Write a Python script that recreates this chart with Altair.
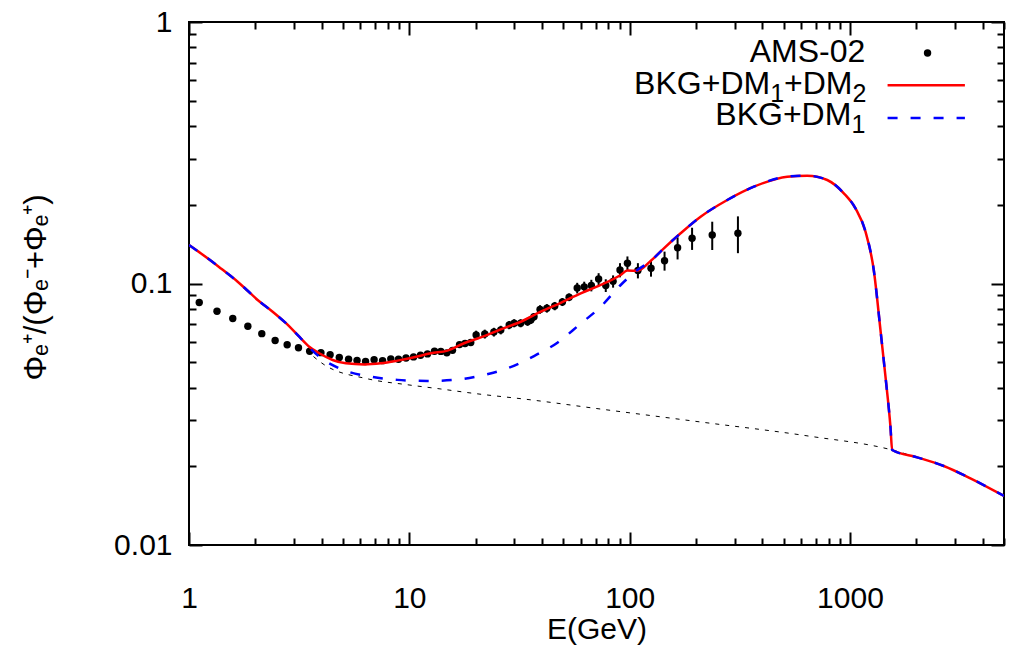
import altair as alt
import pandas as pd

# ---------------- AMS-02 positron fraction ----------------
ams_E = [1.113, 1.34, 1.58, 1.85, 2.14, 2.46, 2.79, 3.14, 3.53, 3.97,
         4.37, 4.81, 5.30, 5.79, 6.33, 6.92, 7.56, 8.24, 8.93, 9.66,
         10.45, 11.24, 12.09, 13.01, 13.9, 14.8, 15.7, 16.9, 17.9, 19.0,
         20.1, 22.0, 24.2, 26.0, 28.4, 29.9, 32.0, 34.4, 35.6, 36.8,
         39.2, 42.1, 45.7, 49.5, 53.1, 57.8, 62.2, 67.0, 72.3, 77.9,
         84.1, 90.4, 97.7, 109, 125, 144, 165, 192, 237, 310]
ams_frac = [0.0846, 0.0783, 0.0735, 0.0686, 0.0643, 0.0605, 0.0583, 0.0568, 0.0551, 0.0544,
            0.0534, 0.0521, 0.0513, 0.0508, 0.0503, 0.0511, 0.0507, 0.0515, 0.0513, 0.0519,
            0.0524, 0.0532, 0.0538, 0.0551, 0.0550, 0.0543, 0.0555, 0.0584, 0.0590, 0.0595,
            0.0635, 0.0641, 0.0652, 0.0664, 0.0694, 0.0705, 0.0705, 0.0714, 0.0725, 0.0746,
            0.0796, 0.0804, 0.0820, 0.0850, 0.0886, 0.0961, 0.0971, 0.0983, 0.1040, 0.0983,
            0.1019, 0.1126, 0.1195, 0.1121, 0.1143, 0.1222, 0.1369, 0.1489, 0.1533, 0.1556]
ams_err = [0.001] * 30 + [0.0025] * 10 + [0.003] * 5 + \
          [0.0045, 0.0045, 0.005, 0.0055, 0.0055, 0.0055,
           0.007, 0.0074, 0.0075, 0.0081, 0.0102, 0.0133, 0.0145, 0.019, 0.025]

# ---------------- model curves ----------------
tot_E = [1.0, 1.134, 1.302, 1.397, 1.663, 1.846, 2.049, 2.397, 2.754, 3.165,
         3.512, 3.899, 4.485, 5.152, 6.237, 7.425, 8.842, 10.51, 12.52, 14.90,
         17.72, 21.10, 26.0, 32.04, 39.49, 48.66, 59.96, 73.89, 91.05, 97.6,
         108.4, 124.5, 143.0, 170.3, 209.9, 277.4, 366.2, 519.1, 639.5, 788.1,
         937.4, 1059, 1176, 1282, 1375, 1449, 1526, 1554, 2017, 2664, 3520, 5000]
tot_frac = [0.1404, 0.1303, 0.1195, 0.1141, 0.1016, 0.0938, 0.0865, 0.0780, 0.0705, 0.0626,
            0.0573, 0.0541, 0.0510, 0.0495, 0.0490, 0.0495, 0.0507, 0.0522, 0.0541, 0.0554,
            0.0591, 0.0622, 0.0668, 0.0714, 0.0780, 0.0844, 0.0917, 0.0987, 0.1078, 0.1121,
            0.1118, 0.1219, 0.1363, 0.1556, 0.1800, 0.2086, 0.2345, 0.2562, 0.2584, 0.2488,
            0.2213, 0.1939, 0.1578, 0.1126, 0.0664, 0.0440, 0.02834, 0.02308, 0.02164, 0.02005,
            0.01799, 0.0154]

dm1_E = [1.0, 1.134, 1.302, 1.397, 1.663, 1.846, 2.049, 2.397, 2.754, 3.165,
         3.512, 3.899, 4.891, 6.69, 8.842, 12.09, 15.97, 21.84, 27.89, 36.81,
         47.0, 58.9, 73.89, 91.05, 108.4, 124.5, 143.0, 170.3, 209.9, 277.4,
         366.2, 519.1, 639.5, 788.1, 937.4, 1059, 1176, 1282, 1375, 1449,
         1526, 1554, 2017, 2664, 3520, 5000]
dm1_frac = [0.1404, 0.1303, 0.1195, 0.1141, 0.1016, 0.0938, 0.0865, 0.0780, 0.0705, 0.0626,
            0.0569, 0.0525, 0.0471, 0.0440, 0.0428, 0.0424, 0.0428, 0.0447, 0.0474, 0.0528,
            0.0594, 0.0694, 0.0815, 0.0987, 0.1126, 0.1219, 0.1363, 0.1556, 0.1800, 0.2086,
            0.2345, 0.2562, 0.2584, 0.2488, 0.2213, 0.1939, 0.1578, 0.1126, 0.0664, 0.0440,
            0.02834, 0.02308, 0.02164, 0.02005, 0.01799, 0.0154]

bkg_E = [3.394, 4.095, 6.463, 9.81, 13.9, 19.61, 35.56, 73.89, 209.9, 648.4,
         1554, 2017, 2664, 3520, 5000]
bkg_frac = [0.0557, 0.0490, 0.0432, 0.0410, 0.0395, 0.0380, 0.0359, 0.0331, 0.02954, 0.02610,
            0.02308, 0.02164, 0.02005, 0.01799, 0.0154]

# ---------------- axes ----------------
x_ticks = [1, 2, 3, 4, 5, 6, 7, 8, 9, 10, 20, 30, 40, 50, 60, 70, 80, 90,
           100, 200, 300, 400, 500, 600, 700, 800, 900, 1000, 2000, 3000, 4000, 5000]
y_ticks = [0.01, 0.02, 0.03, 0.04, 0.05, 0.06, 0.07, 0.08, 0.09,
           0.1, 0.2, 0.3, 0.4, 0.5, 0.6, 0.7, 0.8, 0.9, 1]

# ---------------- legend (text pieces: main text + subscripts) ----------------
leg_main_text = ["AMS-02", "BKG+DM", "+DM", "BKG+DM"]
leg_main_E = [1173, 434.1, 1025.4, 1014.6]
leg_main_y = [0.7037, 0.5328, 0.5328, 0.4030]
leg_sub_text = ["1", "2", "1"]
leg_sub_E = [434.1, 1025.4, 1014.6]
leg_sub_y = [0.5328, 0.5328, 0.4030]
leg_dot_E = [2249]
leg_dot_y = [0.7616]
leg_line_E1 = [1481, 1481]
leg_line_E2 = [3323, 3323]
leg_line_y = [0.5733, 0.4298]

FONT = "Liberation Sans"
FS = 30
LFS = 32
SFS = 25

xs = alt.Scale(type="log", domain=[1, 5000], nice=False)
ys = alt.Scale(type="log", domain=[0.01, 1], nice=False)

x_major = "indexof([1,10,100,1000], datum.value) >= 0 ? -13 : -7"
y_major = "indexof([0.01,0.1,1], datum.value) >= 0 ? -13 : -7"

x_axis_bottom = alt.Axis(orient="bottom", values=x_ticks, grid=False, domain=False,
                         tickSize={"expr": x_major}, tickWidth=2, tickColor="black",
                         labelExpr="indexof([1,10,100,1000], datum.value) >= 0 ? format(datum.value, 'd') : ''",
                         labelFont=FONT, labelFontSize=FS, labelColor="black",
                         labelPadding=51, labelFlush=False, labelOverlap=False,
                         title="E(GeV)", titleFont=FONT, titleFontSize=FS, titleFontWeight="normal",
                         titleColor="black", titleY=84, titleBaseline="middle")
y_axis_left = alt.Axis(orient="left", values=y_ticks, grid=False, domain=False,
                       tickSize={"expr": y_major}, tickWidth=2, tickColor="black",
                       labelExpr="datum.value == 1 ? '1' : datum.value == 0.1 ? '0.1' : datum.value == 0.01 ? '0.01' : ''",
                       labelFont=FONT, labelFontSize=FS, labelColor="black",
                       labelPadding=30, labelFlush=False, labelOverlap=False,
                       title="Φₑ⁺/(Φₑ⁻+Φₑ⁺)", titleFont=FONT, titleFontSize=31, titleFontWeight="normal",
                       titleColor="black", titleX=-153, titleY=265, titleAngle=270,
                       titleAlign="center", titleBaseline="middle")
x_axis_top = alt.Axis(orient="top", values=x_ticks, grid=False, domain=False, labels=False,
                      tickSize={"expr": x_major}, tickWidth=2, tickColor="black", title=None)
y_axis_right = alt.Axis(orient="right", values=y_ticks, grid=False, domain=False, labels=False,
                        tickSize={"expr": y_major}, tickWidth=2, tickColor="black", title=None)

bkg_df = pd.DataFrame({"E": bkg_E, "f": bkg_frac})
tot_df = pd.DataFrame({"E": tot_E, "f": tot_frac})
dm1_df = pd.DataFrame({"E": dm1_E, "f": dm1_frac})
ams_df = pd.DataFrame({"E": ams_E, "f": ams_frac, "err": ams_err})
ams_df["lo"] = ams_df["f"] - ams_df["err"]
ams_df["hi"] = ams_df["f"] + ams_df["err"]

bkg = alt.Chart(bkg_df).mark_line(color="black", strokeWidth=1, strokeDash=[4, 6],
                                  interpolate="monotone", clip=True).encode(
    x=alt.X("E:Q", scale=xs, axis=x_axis_bottom),
    y=alt.Y("f:Q", scale=ys, axis=y_axis_left))

errs = alt.Chart(ams_df).mark_rule(color="black", strokeWidth=2).encode(
    x=alt.X("E:Q", scale=xs, axis=None),
    y=alt.Y("lo:Q", scale=ys, axis=None),
    y2="hi:Q")

pts = alt.Chart(ams_df).mark_circle(color="black", opacity=1, size=55).encode(
    x=alt.X("E:Q", scale=xs, axis=None),
    y=alt.Y("f:Q", scale=ys, axis=None))

red = alt.Chart(tot_df).mark_line(color="#ff0000", strokeWidth=2.5,
                                  interpolate="monotone", clip=True).encode(
    x=alt.X("E:Q", scale=xs, axis=x_axis_top),
    y=alt.Y("f:Q", scale=ys, axis=y_axis_right))

blue = alt.Chart(dm1_df).mark_line(color="#0000ff", strokeWidth=2.5, strokeDash=[10, 13],
                                   interpolate="monotone", clip=True).encode(
    x=alt.X("E:Q", scale=xs, axis=None),
    y=alt.Y("f:Q", scale=ys, axis=None))

leg_main = alt.Chart(pd.DataFrame({"E": leg_main_E, "f": leg_main_y, "t": leg_main_text})).mark_text(
    align="right", baseline="alphabetic", font=FONT, fontSize=LFS, color="black").encode(
    x=alt.X("E:Q", scale=xs, axis=None),
    y=alt.Y("f:Q", scale=ys, axis=None),
    text="t:N")

leg_sub = alt.Chart(pd.DataFrame({"E": leg_sub_E, "f": leg_sub_y, "t": leg_sub_text})).mark_text(
    align="left", baseline="alphabetic", font=FONT, fontSize=SFS, color="black", dy=8).encode(
    x=alt.X("E:Q", scale=xs, axis=None),
    y=alt.Y("f:Q", scale=ys, axis=None),
    text="t:N")

leg_dot = alt.Chart(pd.DataFrame({"E": leg_dot_E, "f": leg_dot_y})).mark_circle(
    color="black", opacity=1, size=55).encode(
    x=alt.X("E:Q", scale=xs, axis=None),
    y=alt.Y("f:Q", scale=ys, axis=None))

leg_l_df = pd.DataFrame({"E1": leg_line_E1, "E2": leg_line_E2, "f": leg_line_y,
                         "k": ["tot", "dm1"]})
leg_red = alt.Chart(leg_l_df[leg_l_df.k == "tot"]).mark_rule(color="#ff0000", strokeWidth=2.5).encode(
    x=alt.X("E1:Q", scale=xs, axis=None), x2="E2:Q",
    y=alt.Y("f:Q", scale=ys, axis=None))
leg_blue = alt.Chart(leg_l_df[leg_l_df.k == "dm1"]).mark_rule(color="#0000ff", strokeWidth=2.5,
                                                             strokeDash=[10, 13]).encode(
    x=alt.X("E1:Q", scale=xs, axis=None), x2="E2:Q",
    y=alt.Y("f:Q", scale=ys, axis=None))

chart = alt.layer(bkg, errs, pts, red, blue, leg_main, leg_sub, leg_dot, leg_red, leg_blue).resolve_axis(
    x="independent", y="independent"
).properties(
    width=815, height=523,
    padding={"left": 189, "top": 22, "right": 6, "bottom": 100},
    autosize=alt.AutoSizeParams(type="none"),
    background="white",
).configure_view(stroke="black", strokeWidth=2)

chart.save("out.html", embed_options={"renderer": "svg", "actions": False})
